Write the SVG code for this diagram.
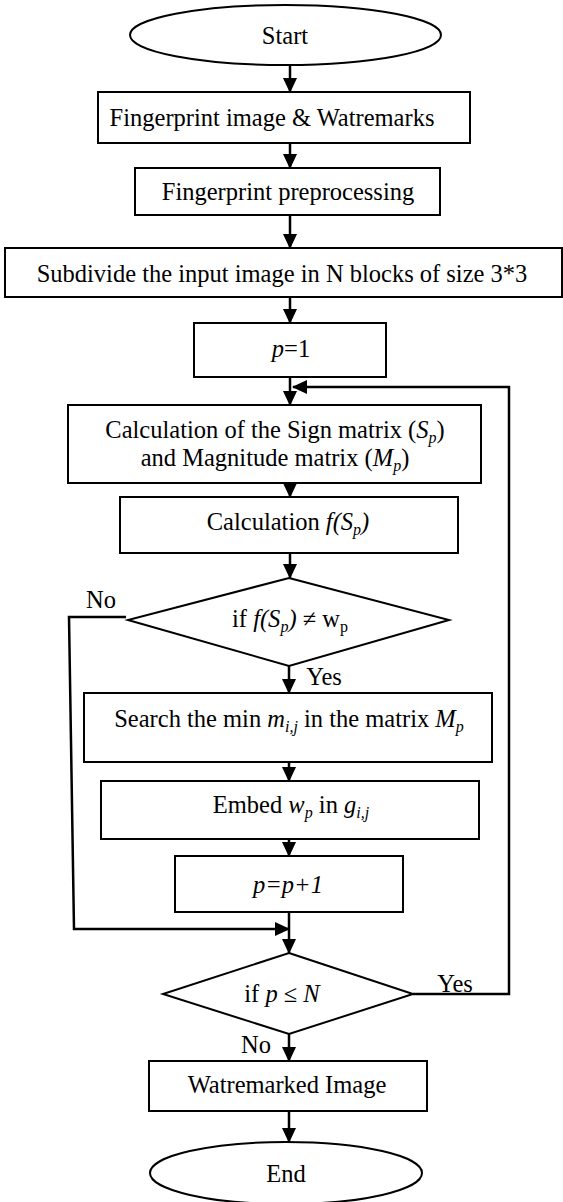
<svg xmlns="http://www.w3.org/2000/svg" width="563" height="1202" viewBox="0 0 563 1202">
<defs>
<marker id="ah" markerUnits="userSpaceOnUse" markerWidth="15" markerHeight="14" refX="14" refY="7" orient="auto">
<path d="M0,0 L15,7 L0,14 z" fill="#000"/>
</marker>
<style>
.box{fill:#fff;stroke:#000;stroke-width:2}
.ln{fill:none;stroke:#000;stroke-width:2.5}
.t{font-family:"Liberation Serif","Times New Roman",serif;font-size:24.5px;fill:#000;text-anchor:middle}
.i{font-style:italic}
.s{font-size:16px}
</style>
</defs>
<rect width="563" height="1202" fill="#fff"/>
<g id="start"><ellipse class="box" cx="285.5" cy="35" rx="155.5" ry="30"/><text class="t" x="285" y="44">Start</text></g>
<g id="input"><rect class="box" x="98" y="92" width="372" height="51"/><text class="t" x="272" y="126">Fingerprint image &amp; Watremarks</text></g>
<g id="preproc"><rect class="box" x="135" y="168" width="305" height="47"/><text class="t" x="288" y="200">Fingerprint preprocessing</text></g>
<g id="subdivide"><rect class="box" x="5" y="248" width="557" height="49"/><text class="t" x="282" y="282">Subdivide the input image in N blocks of size 3*3</text></g>
<g id="p1"><rect class="box" x="194" y="323" width="192" height="54"/><text class="t" x="291" y="357"><tspan class="i">p</tspan>=1</text></g>
<g id="calc1"><rect class="box" x="68" y="405" width="413" height="78"/>
<text class="t" x="275" y="438">Calculation of the Sign matrix (<tspan class="i">S</tspan><tspan class="i s" dy="5">p</tspan><tspan dy="-5">)</tspan></text>
<text class="t" x="275" y="466">and Magnitude matrix (<tspan class="i">M</tspan><tspan class="i s" dy="5">p</tspan><tspan dy="-5">)</tspan></text></g>
<g id="calc2"><rect class="box" x="120" y="497" width="338" height="56"/><text class="t" x="288" y="530">Calculation <tspan class="i">f(S</tspan><tspan class="i s" dy="5">p</tspan><tspan class="i" dy="-5">)</tspan></text></g>
<g id="dec1"><polygon class="box" points="289,578 449,620 289,666 128,620"/><text class="t" x="290" y="627">if <tspan class="i">f(S</tspan><tspan class="i s" dy="5">p</tspan><tspan class="i" dy="-5">)</tspan> ≠ w<tspan class="s" dy="5">p</tspan></text></g>
<g id="search"><rect class="box" x="84" y="693" width="408" height="69"/><text class="t" x="289" y="727">Search the min <tspan class="i">m</tspan><tspan class="i s" dy="5">i,j</tspan><tspan dy="-5"> in the matrix </tspan><tspan class="i">M</tspan><tspan class="i s" dy="5">p</tspan></text></g>
<g id="embed"><rect class="box" x="101" y="781" width="378" height="58"/><text class="t" x="291" y="813">Embed <tspan class="i">w</tspan><tspan class="i s" dy="5">p</tspan><tspan dy="-5"> in </tspan><tspan class="i">g</tspan><tspan class="i s" dy="5">i,j</tspan></text></g>
<g id="inc"><rect class="box" x="175" y="856" width="228" height="56"/><text class="t i" x="288" y="893">p=p+1</text></g>
<g id="dec2"><polygon class="box" points="289,953 413,994 289,1034 163,994"/><text class="t" x="282" y="1002">if <tspan class="i">p</tspan> ≤ <tspan class="i">N</tspan></text></g>
<g id="output"><rect class="box" x="149" y="1061" width="278" height="50"/><text class="t" x="287" y="1093">Watremarked Image</text></g>
<g id="end"><ellipse class="box" cx="286" cy="1173" rx="136" ry="31"/><text class="t" x="286" y="1182">End</text></g>
<g id="connectors">
<line class="ln" x1="290" y1="65" x2="290" y2="92" marker-end="url(#ah)"/>
<line class="ln" x1="290" y1="143" x2="290" y2="168" marker-end="url(#ah)"/>
<line class="ln" x1="290" y1="215" x2="290" y2="248" marker-end="url(#ah)"/>
<line class="ln" x1="290" y1="297" x2="290" y2="323" marker-end="url(#ah)"/>
<line class="ln" x1="290" y1="377" x2="290" y2="405" marker-end="url(#ah)"/>
<polyline class="ln" points="413,994 509,994 509,387 293,387" marker-end="url(#ah)"/>
<line class="ln" x1="290" y1="483" x2="290" y2="497" marker-end="url(#ah)"/>
<line class="ln" x1="290" y1="553" x2="290" y2="578" marker-end="url(#ah)"/>
<line class="ln" x1="289" y1="666" x2="289" y2="693" marker-end="url(#ah)"/>
<line class="ln" x1="289" y1="762" x2="289" y2="781" marker-end="url(#ah)"/>
<line class="ln" x1="289" y1="839" x2="289" y2="856" marker-end="url(#ah)"/>
<line class="ln" x1="289" y1="912" x2="289" y2="953" marker-end="url(#ah)"/>
<polyline class="ln" points="126,617 69,617 74,929 289,929" marker-end="url(#ah)"/>
<line class="ln" x1="289" y1="1034" x2="289" y2="1061" marker-end="url(#ah)"/>
<line class="ln" x1="289" y1="1111" x2="289" y2="1142" marker-end="url(#ah)"/>
<text class="t" x="101" y="608">No</text>
<text class="t" x="324" y="685">Yes</text>
<text class="t" x="455" y="992">Yes</text>
<text class="t" x="256" y="1053">No</text>
</g>
</svg>
